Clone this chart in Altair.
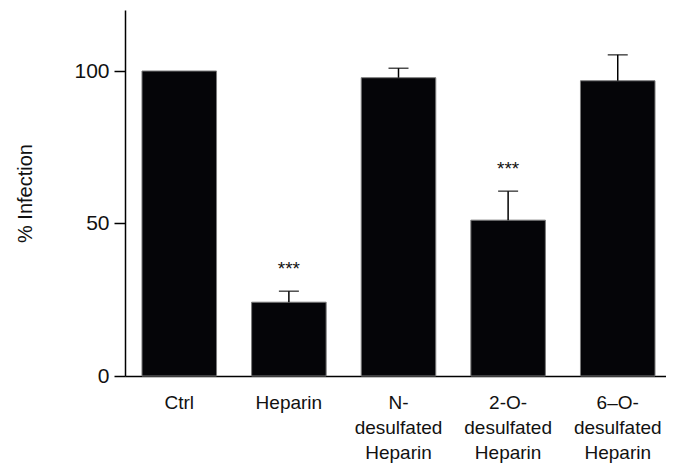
import altair as alt
import pandas as pd

categories = ["Ctrl", "Heparin", "N-\ndesulfated\nHeparin", "2-O-\ndesulfated\nHeparin", "6–O-\ndesulfated\nHeparin"]
values = [100, 24.2, 97.8, 51.1, 96.8]
upper = [None, 27.8, 100.9, 60.6, 105.3]
stars = ["", "***", "", "***", ""]
star_y = [None, 36, None, 69, None]

df = pd.DataFrame({"cat": categories, "val": values, "up": upper, "star": stars, "sy": star_y})

FONT = "Liberation Sans"

xscale = alt.Scale(paddingInner=0.32, paddingOuter=0.155, range=[0, 547])
xenc = alt.X("cat:N", sort=None, title=None, scale=xscale,
             axis=alt.Axis(labelAngle=0, labelExpr="split(datum.label, '\\n')",
                           labelFontSize=19, labelLineHeight=25, labelPadding=17,
                           ticks=False, tickSize=0, domainWidth=1.5, domainColor="black",
                           labelColor="#111", labelFont=FONT))
yscale = alt.Scale(domain=[0, 120], nice=False)

bars = alt.Chart(df).mark_bar(color="#050508", stroke="#7a7a7a", strokeWidth=1).encode(
    x=xenc,
    y=alt.Y("val:Q", scale=yscale, title="% Infection",
            axis=alt.Axis(values=[0, 50, 100], tickSize=11, labelPadding=5,
                          labelFontSize=21, titleFontSize=20, titleFontWeight="normal",
                          titlePadding=38, domainWidth=1.5, domainColor="black",
                          tickColor="black", tickWidth=1.5, grid=False,
                          labelColor="#111", titleColor="#111",
                          labelFont=FONT, titleFont=FONT)),
)

err = alt.Chart(df).transform_filter("datum.up != null").mark_rule(color="black", strokeWidth=1.5).encode(
    x=alt.X("cat:N", sort=None, scale=xscale),
    y=alt.Y("val:Q", scale=yscale),
    y2="up:Q",
)

caps = alt.Chart(df).transform_filter("datum.up != null").mark_tick(
    color="black", size=20, thickness=1.5, orient="horizontal").encode(
    x=alt.X("cat:N", sort=None, scale=xscale),
    y=alt.Y("up:Q", scale=yscale),
)

star_txt = alt.Chart(df).transform_filter("datum.sy != null").mark_text(
    fontSize=19, font=FONT, color="#111", baseline="middle", dy=3).encode(
    x=alt.X("cat:N", sort=None, scale=xscale),
    y=alt.Y("sy:Q", scale=yscale),
    text="star:N",
)

chart = alt.layer(bars, err, caps, star_txt).properties(
    width=541, height=366,
    autosize=alt.AutoSizeParams(type="none"),
    padding={"left": 117, "top": 2, "right": 0, "bottom": 95},
).configure(background="white").configure_view(strokeWidth=0, stroke="transparent")

chart.save("out.html", embed_options={"renderer": "svg", "actions": False})
